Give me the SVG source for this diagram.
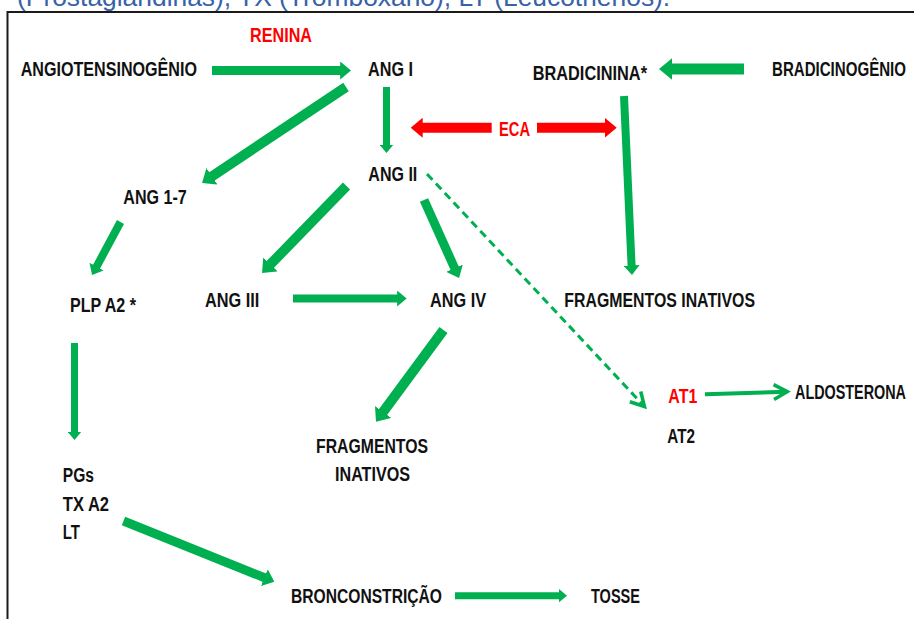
<svg xmlns="http://www.w3.org/2000/svg" width="914" height="619" viewBox="0 0 914 619">
<style>
.t{font-family:"Liberation Sans",Arial,sans-serif;font-weight:bold;font-size:20px;fill:#111}
.r{fill:#FF0000}
.cap{font-family:"Liberation Sans",Arial,sans-serif;font-size:26.4px;fill:#3862A8}
.g{stroke:#00B050;fill:none;stroke-linecap:butt;marker-end:url(#ah)}
.red{stroke:#FF0000;fill:none;marker-end:url(#ahr)}
.thin{stroke:#00B050;fill:none;marker-end:url(#open)}
</style>
<defs>
<marker id="ah" viewBox="0 0 1.2 2" refX="0.1" refY="1" markerWidth="1.2" markerHeight="2" orient="auto" markerUnits="strokeWidth"><path d="M0,0 L1.2,1 L0,2 z" fill="#00B050"/></marker>
<marker id="ahr" viewBox="0 0 1.2 2" refX="0.1" refY="1" markerWidth="1.2" markerHeight="2" orient="auto" markerUnits="strokeWidth"><path d="M0,0 L1.2,1 L0,2 z" fill="#FF0000"/></marker>
<marker id="open" viewBox="0 0 18 18" refX="15" refY="9" markerWidth="18" markerHeight="18" orient="auto" markerUnits="userSpaceOnUse" overflow="visible"><path d="M1.5,1.5 L15,9 L1.5,16.5" fill="none" stroke="#00B050" stroke-width="3.5" stroke-linejoin="miter"/></marker>
</defs>
<rect width="914" height="619" fill="#fff"/>
<text class="cap" x="17" y="6">(Prostaglandinas), TX (Tromboxano), LT (Leucotrienos).</text>
<rect x="7.5" y="12" width="1000" height="1000" fill="none" stroke="#1a1a1a" stroke-width="2"/>

<g id="connectors">
<line class="g" x1="212" y1="70.5" x2="341.1" y2="70.5" stroke-width="9"/>
<line class="g" x1="386.5" y1="87" x2="386.5" y2="145.3" stroke-width="7"/>
<line class="g" x1="346" y1="87" x2="211.2" y2="176.9" stroke-width="10"/>
<line class="g" x1="346.5" y1="186" x2="269.7" y2="265.1" stroke-width="10"/>
<line class="g" x1="424" y1="200" x2="455" y2="269" stroke-width="9"/>
<line class="g" x1="744" y1="69" x2="671.1" y2="69" stroke-width="11"/>
<line class="g" x1="624" y1="96" x2="631.6" y2="266.2" stroke-width="8"/>
<line class="red" x1="491.7" y1="127.7" x2="421.7" y2="127.7" stroke-width="10"/>
<line class="red" x1="537" y1="127.7" x2="605.7" y2="127.7" stroke-width="10"/>
<line class="g" x1="293" y1="298.5" x2="397.9" y2="298.5" stroke-width="8"/>
<line class="g" x1="443.5" y1="330" x2="382.5" y2="412.8" stroke-width="10"/>
<line class="g" x1="120.5" y1="222" x2="96.2" y2="267.3" stroke-width="8"/>
<line class="g" x1="74.5" y1="343" x2="74.5" y2="432.3" stroke-width="7"/>
<line class="g" x1="123.5" y1="521" x2="265.2" y2="578" stroke-width="9"/>
<line class="g" x1="455" y1="595.7" x2="559.3" y2="595.7" stroke-width="7"/>
<line class="thin" x1="427" y1="174" x2="644.5" y2="406.5" stroke-width="3" stroke-dasharray="8 5"/>
<line class="thin" x1="705" y1="394.3" x2="787.3" y2="391.7" stroke-width="4"/>
</g>

<g id="renina"><text class="t r" x="250" y="42" textLength="62" lengthAdjust="spacingAndGlyphs">RENINA</text></g>
<g id="angiotensinogenio"><text class="t" x="20.7" y="76" textLength="176.3" lengthAdjust="spacingAndGlyphs">ANGIOTENSINOGÊNIO</text></g>
<g id="ang1"><text class="t" x="368" y="76" textLength="45" lengthAdjust="spacingAndGlyphs">ANG I</text></g>
<g id="bradicinina"><text class="t" x="532.7" y="80" textLength="114.3" lengthAdjust="spacingAndGlyphs">BRADICININA*</text></g>
<g id="bradicinogenio"><text class="t" x="772" y="76" textLength="134" lengthAdjust="spacingAndGlyphs">BRADICINOGÊNIO</text></g>
<g id="eca"><text class="t r" x="499" y="136" textLength="31" lengthAdjust="spacingAndGlyphs">ECA</text></g>
<g id="ang2"><text class="t" x="368.3" y="181" textLength="49" lengthAdjust="spacingAndGlyphs">ANG II</text></g>
<g id="ang17"><text class="t" x="123.3" y="204" textLength="63.4" lengthAdjust="spacingAndGlyphs">ANG 1-7</text></g>
<g id="plpa2"><text class="t" x="70" y="312" textLength="66" lengthAdjust="spacingAndGlyphs">PLP A2 *</text></g>
<g id="ang3"><text class="t" x="205" y="306.5" textLength="54.3" lengthAdjust="spacingAndGlyphs">ANG III</text></g>
<g id="ang4"><text class="t" x="430" y="306.5" textLength="56" lengthAdjust="spacingAndGlyphs">ANG IV</text></g>
<g id="fragmentos1"><text class="t" x="564.3" y="306.5" textLength="190.7" lengthAdjust="spacingAndGlyphs">FRAGMENTOS INATIVOS</text></g>
<g id="at1"><text class="t r" x="668.3" y="402.7" textLength="29" lengthAdjust="spacingAndGlyphs">AT1</text></g>
<g id="aldosterona"><text class="t" x="795" y="399.3" textLength="111" lengthAdjust="spacingAndGlyphs">ALDOSTERONA</text></g>
<g id="at2"><text class="t" x="667.3" y="443.3" textLength="27.7" lengthAdjust="spacingAndGlyphs">AT2</text></g>
<g id="fragmentos2">
<text class="t" x="316" y="453" textLength="112" lengthAdjust="spacingAndGlyphs">FRAGMENTOS</text>
<text class="t" x="335" y="481" textLength="75" lengthAdjust="spacingAndGlyphs">INATIVOS</text>
</g>
<g id="pgs">
<text class="t" x="62.8" y="482" textLength="31.2" lengthAdjust="spacingAndGlyphs">PGs</text>
<text class="t" x="62.8" y="511" textLength="46.2" lengthAdjust="spacingAndGlyphs">TX A2</text>
<text class="t" x="62.8" y="539" textLength="17.2" lengthAdjust="spacingAndGlyphs">LT</text>
</g>
<g id="broncoconstricao"><text class="t" x="291" y="603" textLength="151" lengthAdjust="spacingAndGlyphs">BRONCONSTRIÇÃO</text></g>
<g id="tosse"><text class="t" x="591" y="603" textLength="49" lengthAdjust="spacingAndGlyphs">TOSSE</text></g>
</svg>
